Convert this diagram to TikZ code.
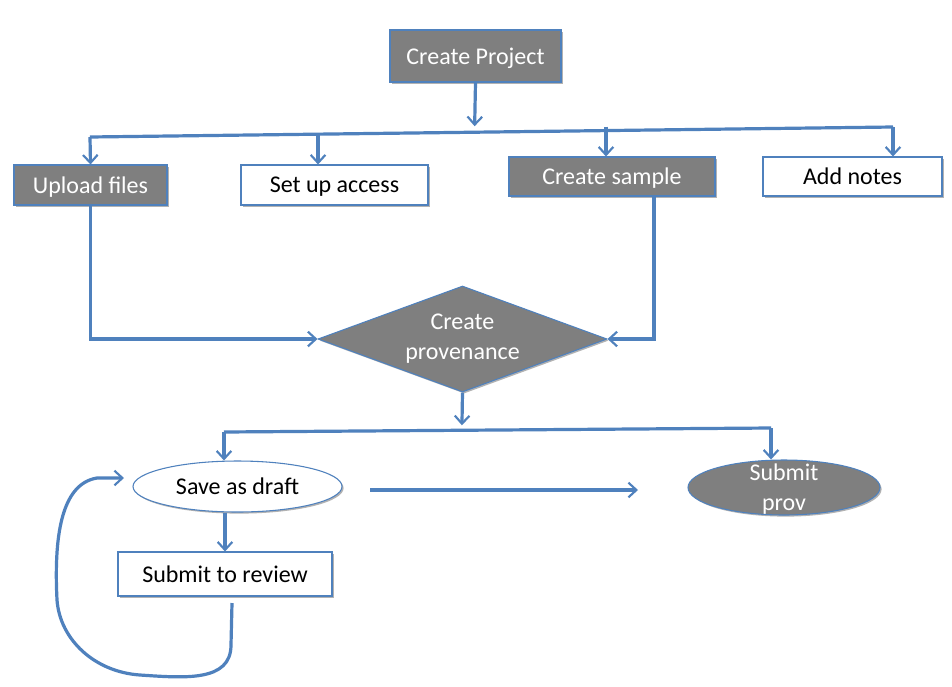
\documentclass[tikz,border=0pt]{standalone}
\usepackage{fontspec}
\setmainfont{Carlito}
\usetikzlibrary{shapes.geometric,arrows.meta,calc,shadows}
\definecolor{boxgray}{HTML}{7F7F7F}
\definecolor{lineblue}{HTML}{4F81BD}
\begin{document}
\begin{tikzpicture}[x=0.75pt,y=-0.75pt,
  font=\fontsize{18}{22.5}\selectfont,
  shade/.style={drop shadow={shadow xshift=1.2pt,shadow yshift=-1.2pt,fill=black!30,opacity=1}},
  graybox/.style={rectangle,draw=lineblue,line width=0.8pt,fill=boxgray,text=white,inner sep=0pt,text depth=0pt,shade},
  whitebox/.style={rectangle,draw=lineblue,line width=0.8pt,fill=white,text=black,inner sep=0pt,text depth=0pt,shade},
  conn/.style={draw=lineblue,line width=2.4pt},
  arr/.style={conn,-{Straight Barb[length=6pt,width=11pt,line width=1.6pt]}}
]
\fill[white] (0,0) rectangle (952,686);
\useasboundingbox (0,0) rectangle (952,686);

% nodes
\node[graybox,minimum width=128.25pt,minimum height=39pt] (cp) at (475.5,56) {Create Project};
\node[graybox,minimum width=114.75pt,minimum height=30pt] (up) at (90.5,185) {Upload files};
\node[whitebox,minimum width=140.25pt,minimum height=30pt] (sa) at (334.5,185) {Set up access};
\node[graybox,minimum width=154.5pt,minimum height=29.25pt] (cs) at (612,176.5) {Create sample};
\node[whitebox,minimum width=134.25pt,minimum height=29.25pt] (an) at (852.5,176.5) {Add notes};
\node[diamond,aspect=2.73,draw=lineblue,line width=0.8pt,fill=boxgray,text=white,inner sep=0pt,
      minimum width=216.75pt,minimum height=79.5pt,align=center,shade] (dm) at (462.5,339) {Create\\provenance};
\node[ellipse,draw=lineblue,line width=0.8pt,fill=white,inner sep=0pt,text depth=0pt,
      minimum width=156.75pt,minimum height=38.25pt,shade] (sd) at (237.5,486.5) {Save as draft};
\node[ellipse,draw=lineblue,line width=0.8pt,fill=boxgray,inner sep=0pt,
      minimum width=144pt,minimum height=41.25pt,shade] (sp) at (784,487.5) {};
\node[text=white,align=center,inner sep=0pt] (sptext) at (784,489) {Submit\\prov};
\node[whitebox,minimum width=160.5pt,minimum height=33pt] (sr) at (225,574) {Submit to review};

% top bus
\coordinate (busL) at (90,137);
\coordinate (busR) at (893,127);
\coordinate (bcp) at ($(busL)!0.479!(busR)$);
\coordinate (bsa) at ($(busL)!0.284!(busR)$);
\coordinate (bcs) at ($(busL)!0.6426!(busR)$);
\draw[arr] (cp.south) -- ($(bcp)+(0,-6)$);
\draw[conn] (busL) -- (busR);
\draw[arr] (busL) -- (up.north);
\draw[arr] (bsa) -- (bsa |- sa.north);
\draw[arr] ($(bcs)+(0,-4)$) -- (bcs |- cs.north);
\draw[arr] (busR) -- (busR |- an.north);

% into diamond
\draw[arr] (up.south) |- (dm.west);
\draw[arr] ($(cs.south)+(42,0)$) |- (dm.east);

% lower bus
\coordinate (bus2L) at (224,432);
\coordinate (bus2R) at (771,428);
\coordinate (bdm) at ($(bus2L)!0.435!(bus2R)$);
\draw[arr] (dm.south) -- ($(bdm)+(0,-5)$);
\draw[conn] (bus2L) -- (bus2R);
\draw[arr] (bus2L) -- (bus2L |- sd.north);
\draw[arr] (bus2R) -- (bus2R |- sp.north);

% floating arrow
\coordinate (fa1) at (370,490);
\coordinate (fa2) at (638,490);
\draw[arr] (fa1) -- (fa2);

% draft to review
\draw[arr] (sr.north |- sd.south) -- (sr.north);

% loop back
\coordinate (lp1) at (232,603);
\coordinate (lp2) at (124,478);
\draw[arr] (lp1) -- (231,645) .. controls (231,682) and (185,678) .. (140,675)
  .. controls (95,672) and (60,640) .. (57,600)
  .. controls (54,540) and (60,484) .. (97,478) -- (lp2);
\end{tikzpicture}
\end{document}
